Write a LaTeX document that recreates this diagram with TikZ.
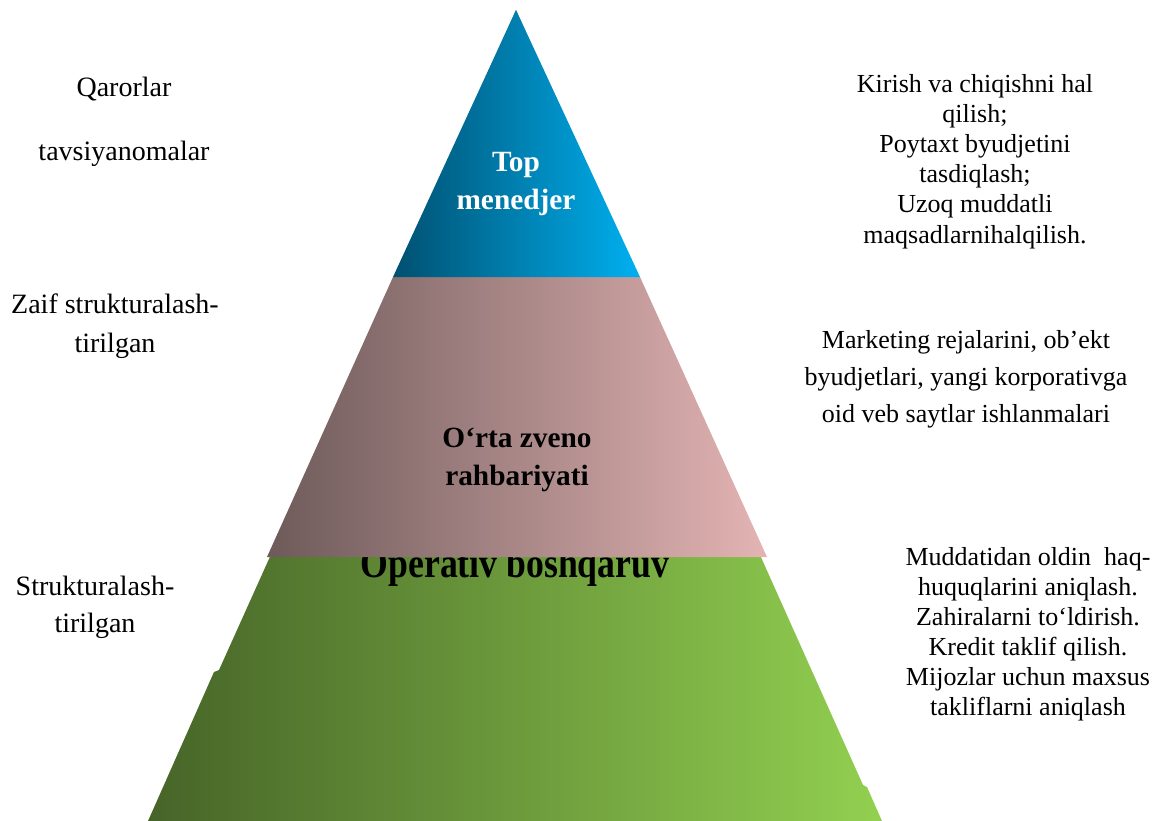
\documentclass[tikz,border=0pt]{standalone}
\usepackage{graphicx}
\usepackage{fontspec}
\setmainfont{Liberation Serif}
\definecolor{blueL}{HTML}{005070}
\definecolor{blueR}{HTML}{00B0F0}
\definecolor{pinkL}{HTML}{6E5A5A}
\definecolor{pinkR}{HTML}{E4B4B4}
\definecolor{greenL}{HTML}{466428}
\definecolor{greenR}{HTML}{92D050}
\tikzset{
  sidetext/.style={align=center, inner sep=0pt, anchor=base, text=black},
  rlabel/.style={sidetext, font=\fontsize{19.5}{22.65}\selectfont},
  rlabelwide/.style={sidetext, font=\fontsize{19.5}{27.75}\selectfont},
  llabel/.style={sidetext, font=\fontsize{21}{29.25}\selectfont},
  llabeltight/.style={sidetext, font=\fontsize{21}{27.75}\selectfont},
  levellabel/.style={sidetext, font=\bfseries\fontsize{22}{28.5}\selectfont},
}
\begin{document}
\begin{tikzpicture}[x=0.75pt,y={(0pt,-0.75pt)}]
\useasboundingbox (0,0) rectangle (1158,821);
% bottom level (green)
\shade[left color=greenL, right color=greenR]
  (516,10) -- (863,785) -- (867,787) -- (882,821) -- (148,821)
  -- (214,672) -- (219,670) -- cycle;
\node[sidetext, font=\bfseries\fontsize{31.5}{36}\selectfont] (oper) at (515,577)
  {\scalebox{0.85}[1]{Operativ boshqaruv}};
% middle level (pink)
\shade[left color=pinkL, right color=pinkR]
  (393,277) -- (640,277) -- (767,557) -- (267,557) -- cycle;
% top level (blue)
\shade[left color=blueL, right color=blueR]
  (516,10) -- (640,277) -- (393,277) -- cycle;
% level labels (anchor = baseline of last line)
\node[levellabel, text=white] (top) at (516,209) {Top\\menedjer};
\node[levellabel] (mid) at (517,485) {O‘rta zveno\\rahbariyati};
% left labels
\node[llabel] (qar) at (124,96) {Qarorlar};
\node[llabel] (tav) at (124,160) {tavsiyanomalar};
\node[llabel] (zaif) at (115,352) {Zaif strukturalash-\\tirilgan};
\node[llabeltight] (str) at (95,632) {Strukturalash-\\tirilgan};
% right labels
\node[rlabel] (r1) at (975,243) {Kirish va chiqishni hal\\qilish;\\Poytaxt byudjetini\\tasdiqlash;\\Uzoq muddatli\\maqsadlarnihalqilish.};
\node[rlabelwide] (r2) at (966,422) {Marketing rejalarini, ob’ekt\\byudjetlari, yangi korporativga\\oid veb saytlar ishlanmalari};
\node[rlabel, font=\fontsize{19.5}{22.5}\selectfont] (r3) at (1028,715) {Muddatidan oldin\ \ haq-\\huquqlarini aniqlash.\\Zahiralarni to‘ldirish.\\Kredit taklif qilish.\\Mijozlar uchun maxsus\\takliflarni aniqlash};
\end{tikzpicture}
\end{document}
